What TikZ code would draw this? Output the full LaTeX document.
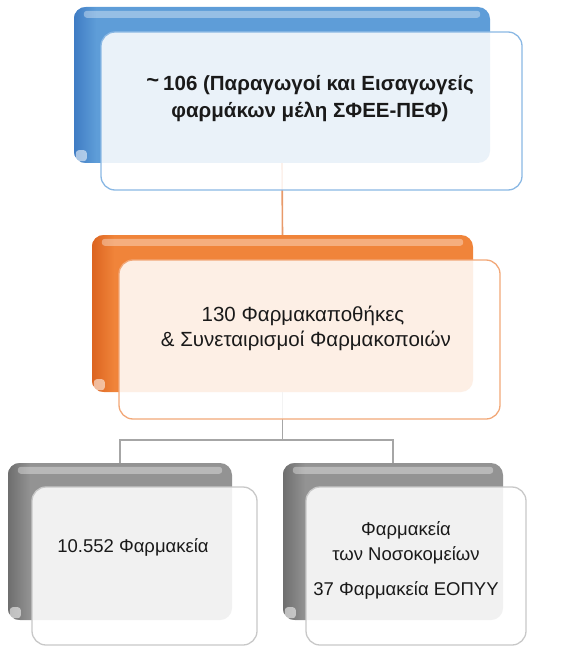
\documentclass[tikz,border=0pt]{standalone}
\usepackage{fontspec}
\setmainfont{Liberation Sans}
\usetikzlibrary{calc,fadings}
\definecolor{blueA}{HTML}{3F7CC4}
\definecolor{blueB}{HTML}{5E9DD8}
\definecolor{blueE}{HTML}{8AB8E4}
\definecolor{orA}{HTML}{DC6420}
\definecolor{orB}{HTML}{F0843A}
\definecolor{orE}{HTML}{F2A878}
\definecolor{grA}{HTML}{6E6E6E}
\definecolor{grB}{HTML}{939393}
\definecolor{grE}{HTML}{C8C8C8}
\definecolor{orLine}{HTML}{E89A6A}
\definecolor{grLine}{HTML}{A6A6A6}
\definecolor{txt}{HTML}{1A1A1A}
\tikzset{
  backbox/.style={rounded corners=12pt, inner sep=0pt, draw=none},
  frontbox/.style={rounded corners=14pt, inner sep=0pt, fill=white, fill opacity=0.87, line width=1.3pt},
  hilite/.style={fill=white, opacity=0.35, rounded corners=3pt},
  notch/.style={fill=white, opacity=0.55, rounded corners=3pt},
  orline/.style={draw=orLine, line width=1.6pt},
  grline/.style={draw=grLine, line width=1.6pt},
  lbl/.style={align=center, text=txt, inner sep=0pt}
}
\begin{document}
\begin{tikzpicture}[x=1pt,y=-1pt]
\useasboundingbox (0,0) rectangle (576,647);
% back boxes
\node[backbox, fill=blueB, minimum width=416pt, minimum height=156pt] (b1) at (282,85) {};
\node[backbox, fill=orB, minimum width=381pt, minimum height=157pt] (b2) at (282.5,313.5) {};
\node[backbox, fill=grB, minimum width=224pt, minimum height=157pt] (b3) at (120,541.5) {};
\node[backbox, fill=grB, minimum width=220pt, minimum height=157pt] (b4) at (393,541.5) {};
% darker left edges and highlights
\foreach \b/\c in {b1/blueA,b2/orA,b3/grA,b4/grA}{
  \begin{scope}
    \clip[rounded corners=12pt] (\b.north west) rectangle (\b.south east);
    \fill[\c, path fading=east] (\b.north west) rectangle ($(\b.south west)+(22,0)$);
  \end{scope}
  \fill[hilite] ($(\b.north west)+(10,4)$) rectangle ($(\b.north east)+(-10,11)$);
  \fill[notch] ($(\b.south west)+(2,-13)$) rectangle ($(\b.south west)+(13,-2)$);
}
% connectors
\draw[orline] (b1.south) -- (b2.north);
\draw[grline] (b2.south) -- ++(0,48) coordinate (j);
\draw[grline] (j) -| (b3.north);
\draw[grline] (j) -| (b4.north);
% front boxes
\node[frontbox, draw=blueE, minimum width=421pt, minimum height=158pt] (f1) at (311.5,111) {};
\node[frontbox, draw=orE, minimum width=381pt, minimum height=159pt] (f2) at (309.5,339.5) {};
\node[frontbox, draw=grE, minimum width=225pt, minimum height=158pt] (f3) at (144.5,566) {};
\node[frontbox, draw=grE, minimum width=220pt, minimum height=158pt] (f4) at (416,566) {};
% texts
\node[lbl, font=\bfseries\fontsize{20.5}{27}\selectfont] (t1) at (310,99)
  {{\fontsize{22}{22}\selectfont\raisebox{3pt}{\char"7E}}\kern4pt 106 (Παραγωγοί και Εισαγωγείς\\φαρμάκων μέλη ΣΦΕΕ-ΠΕΦ)};
\node[lbl, font=\fontsize{20.5}{25}\selectfont] (t2) at (303,328)
  {130 Φαρμακαποθήκες\\\ \& Συνεταιρισμοί Φαρμακοποιών};
\node[lbl, font=\fontsize{18.5}{25}\selectfont] (t3) at (133,547) {10.552 Φαρμακεία};
\node[lbl, font=\fontsize{18.5}{25}\selectfont] (t4) at (406,560)
  {Φαρμακεία\\των Νοσοκομείων\\[10pt]37 Φαρμακεία ΕΟΠΥΥ};
\end{tikzpicture}
\end{document}
